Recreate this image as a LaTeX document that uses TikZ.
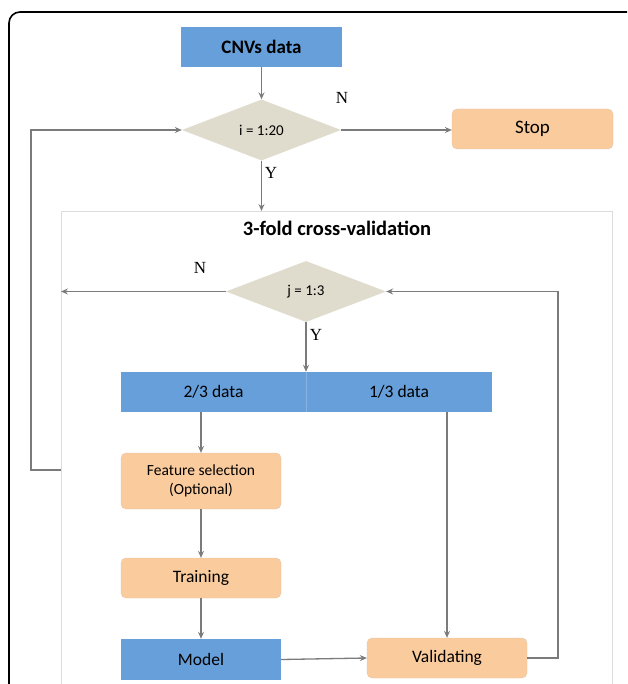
\documentclass[tikz,border=0pt]{standalone}
\usepackage{fontspec}
\setmainfont{Carlito}
\newfontfamily\ynfont{Liberation Serif}
\usetikzlibrary{shapes.geometric,arrows.meta}
\definecolor{boxblue}{HTML}{669FDA}
\definecolor{peach}{HTML}{FACB9D}
\definecolor{dgray}{HTML}{DFDCCD}
\definecolor{lgray}{HTML}{7B7B7B}
\definecolor{framegray}{HTML}{DCDCDC}
\begin{document}
\begin{tikzpicture}[x=1pt,y=-1pt,
  bluebox/.style={rectangle, fill=boxblue, inner sep=0pt, minimum width=160pt, minimum height=40pt, font=\fontsize{17.5}{20}\selectfont},
  peachbox/.style={rectangle, rounded corners=5pt, fill=peach, draw=peach!85!black!70, line width=0.3pt, inner sep=0pt, minimum width=160pt, minimum height=40pt, font=\fontsize{17.5}{20}\selectfont, align=center},
  decide/.style={diamond, fill=dgray, inner sep=0pt, minimum width=159pt, minimum height=61pt, font=\fontsize{15}{18}\selectfont},
  conn/.style={draw=lgray, line width=1.3pt, -{Stealth[length=7pt,width=6pt,inset=2.5pt]}},
  yn/.style={font=\ynfont\fontsize{17}{18}\selectfont, inner sep=0pt}]
\useasboundingbox (0,0) rectangle (627,684);
\clip (0,0) rectangle (627,684);
\fill[white] (0,0) rectangle (627,684);
% outer frame
\draw[black, line width=1.6pt, rounded corners=11pt] (9,720) -- (9,12) -- (660,12);
% inner cross-validation frame
\node (cv) [draw=framegray, line width=1pt, minimum width=551pt, minimum height=500pt, anchor=north west, inner sep=0pt] at (61,211) {};
\node (title) at (337,228) {\fontsize{20.5}{22}\selectfont\bfseries 3-fold cross-validation};
% nodes
\node (cnv) [bluebox, minimum width=161pt] at (261.5,47) {\fontsize{19}{22}\selectfont\bfseries CNVs data};
\node (d1) [decide] at (261.5,130) {i = 1:20};
\node (stop) [peachbox, minimum width=161pt] at (532.5,129) {\fontsize{19}{22}\selectfont Stop};
\node (d2) [decide, minimum width=160pt] at (306,291.5) {j = 1:3};
\node (left) [bluebox, minimum width=185pt] at (213.5,392) {2/3 data};
\node (right) [bluebox, minimum width=186pt] at (399,392) {1/3 data};
\draw[boxblue!80!white, line width=0.6pt] (left.north east) -- (left.south east);
\node (fs) [peachbox, minimum height=56pt, font=\fontsize{15.5}{19}\selectfont] at (201,481) {Feature selection\\(Optional)};
\node (train) [peachbox] at (201,578) {Training};
\node (model) [bluebox, minimum height=41pt] at (201,659.5) {Model};
\node (valid) [peachbox] at (447,658) {Validating};
% helper coordinates
\coordinate (lp) at (31,470);
\coordinate (rr) at (558,0);
% connectors
\draw[conn] (cnv.south) -- (d1.north);
\draw[conn] (d1.east) -- (d1.east -| stop.west);
\draw[conn] (d1.south) -- (d1.south |- cv.north);
\draw[conn] (lp -| cv.west) -- (lp) |- (d1.west);
\draw[conn] (d2.west) -- (d2.west -| cv.west);
\draw[conn] (d2.south) -- (d2.south |- left.north);
\draw[conn] (fs.north |- left.south) -- (fs.north);
\draw[conn] (valid.north |- right.south) -- (valid.north);
\draw[conn] (fs.south) -- (train.north);
\draw[conn] (train.south) -- (model.north);
\draw[conn] (model.east) -- (valid.west);
\draw[conn] (valid.east) -- (valid.east -| rr) |- (d2.east);
% labels
\node[yn] (n1) at (342,98) {N};
\node[yn] (y1) at (271,173) {Y};
\node[yn] (n2) at (200,268) {N};
\node[yn] (y2) at (316,335) {Y};
\end{tikzpicture}
\end{document}
